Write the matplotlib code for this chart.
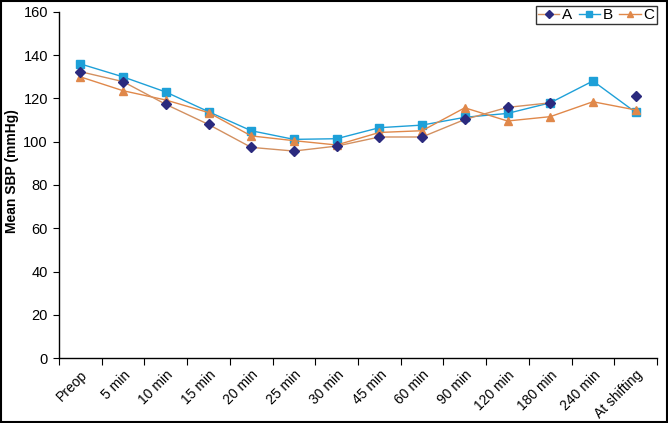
import numpy as np
import matplotlib
matplotlib.use("Agg")
import matplotlib.pyplot as plt
import matplotlib.transforms as mtransforms
from matplotlib.ticker import FixedLocator

plt.rcParams["font.family"] = ["Liberation Sans", "DejaVu Sans"]

times = ["Preop", "5 min", "10 min", "15 min", "20 min", "25 min", "30 min",
         "45 min", "60 min", "90 min", "120 min", "180 min", "240 min", "At shifting"]
sbp_a = [132.4, 127.8, 117.3, 108.0, 97.4, 95.7, 98.0,
         102.2, 102.2, 110.3, 115.9, 118.0, np.nan, 121.2]
sbp_b = [136.0, 130.0, 123.0, 113.9, 105.1, 101.1, 101.4,
         106.5, 107.7, 111.3, 113.1, 118.0, 128.1, 113.6]
sbp_c = [130.0, 123.6, 119.3, 113.5, 102.7, 100.5, 98.5,
         104.3, 105.1, 115.7, 109.6, 111.6, 118.5, 114.7]

navy = "#2b2a7e"
blue = "#1ea0d8"
orange = "#e0884a"
line_orange = "#d39060"

fig = plt.figure(figsize=(6.68, 4.23), dpi=100)
ax = fig.add_axes([59 / 668, 1 - 358 / 423, 598 / 668, 346 / 423])

x = np.arange(len(times))
ax.plot(x, sbp_a, color=line_orange, lw=1.0, marker="D", ms=5,
        mfc=navy, mec=navy, label="A", zorder=3)
ax.plot(x, sbp_b, color=blue, lw=1.0, marker="s", ms=6,
        mfc=blue, mec=blue, label="B", zorder=2)
ax.plot(x, sbp_c, color=orange, lw=1.0, marker="^", ms=5.5,
        mfc=orange, mec=orange, label="C", zorder=2)

ax.set_xlim(-0.5, len(times) - 0.5)
ax.set_ylim(0, 160)
ax.set_yticks(range(0, 161, 20))
ax.set_xticks(x)
ax.set_xticklabels(times, rotation=45, ha="right", va="top",
                   rotation_mode="anchor", fontsize=10)
shift = mtransforms.ScaledTranslation(5 / 100, 0, fig.dpi_scale_trans)
for lab in ax.get_xticklabels():
    lab.set_transform(lab.get_transform() + shift)
ax.xaxis.set_minor_locator(FixedLocator(np.arange(-0.5, len(times), 1.0)))
ax.tick_params(axis="x", which="major", length=0, pad=7)
ax.tick_params(axis="x", which="minor", length=5, width=0.8, direction="out")
ax.tick_params(axis="y", length=4, width=0.8, direction="out",
               labelsize=10.5, pad=4)

for s in ["top", "right"]:
    ax.spines[s].set_visible(False)
for s in ["left", "bottom"]:
    ax.spines[s].set_linewidth(1.0)

ax.set_ylabel("Mean SBP (mmHg)", fontsize=10, fontweight="bold")
ax.yaxis.set_label_coords(-40 / 598, 0.54)

leg = ax.legend(loc="upper right", ncol=3, bbox_to_anchor=(1.0, 1.018),
                frameon=True, fancybox=False, edgecolor="black",
                fontsize=11, handlelength=1.4, handletextpad=0.2,
                columnspacing=0.4, borderpad=0.15, borderaxespad=0,
                markerscale=0.8)
leg.get_frame().set_linewidth(1.0)

# outer border round the figure
fig.patches.append(plt.Rectangle((0.002, 0.003), 0.996, 0.994,
                                 transform=fig.transFigure, fill=False,
                                 edgecolor="black", lw=1.5))

fig.savefig("out.png", dpi=100)
